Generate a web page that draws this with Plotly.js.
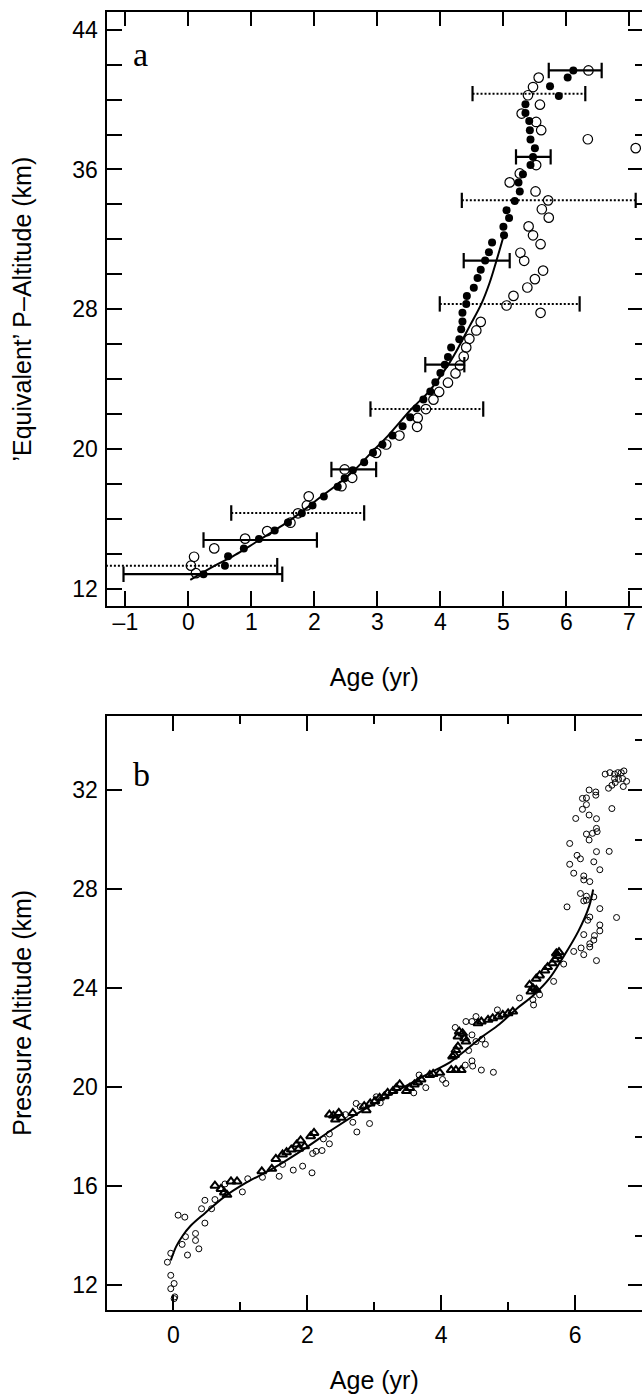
<!DOCTYPE html>
<html>
<head>
<meta charset="utf-8">
<script src="https://cdn.plot.ly/plotly-3.0.1.min.js"></script>
<style>html,body{margin:0;padding:0;background:#fff;}#chart{width:642px;height:1396px;}</style>
</head>
<body>
<div id="chart"></div>
<script>
// ---------- Panel a data ----------
var aFilledX = [0.24,0.58,0.63,0.88,1.12,1.37,1.58,1.80,1.97,2.15,2.37,2.48,2.61,2.79,2.93,3.08,3.24,3.40,3.52,3.62,3.73,3.84,3.92,4.00,4.07,4.12,4.17,4.30,4.33,4.35,4.35,4.41,4.42,4.53,4.59,4.64,4.71,4.77,4.82,5.01,5.00,5.09,5.05,5.18,5.26,5.24,5.31,5.43,5.47,5.50,5.43,5.42,5.41,5.35,5.35,5.88,5.74,6.02,6.11];
var aFilledY = [12.82,13.31,13.85,14.29,14.83,15.32,15.78,16.31,16.76,17.27,17.83,18.32,18.78,19.23,19.77,20.25,20.76,21.29,21.81,22.32,22.82,23.29,23.81,24.34,24.82,25.26,25.81,26.28,26.85,27.29,27.79,28.30,28.76,29.23,29.79,30.25,30.78,31.26,31.81,32.23,32.72,33.22,33.67,34.19,34.74,35.26,35.73,36.25,36.72,37.22,37.71,38.25,38.78,39.24,39.73,40.21,40.76,41.26,41.67];
var aOpenX = [0.12,0.04,0.09,0.41,0.90,1.25,1.62,1.74,1.88,1.91,2.43,2.60,2.48,2.98,3.14,3.35,3.63,3.64,3.77,3.89,3.98,4.12,4.24,4.31,4.37,4.41,4.46,4.57,4.64,5.59,5.05,5.16,5.38,5.50,5.63,5.33,5.27,5.59,5.47,5.40,5.72,5.61,5.71,5.51,5.10,5.26,5.52,7.10,6.34,5.60,5.52,5.29,5.58,5.39,5.47,5.56,6.35];
var aOpenY = [12.88,13.31,13.82,14.30,14.86,15.29,15.77,16.31,16.76,17.28,17.86,18.34,18.82,19.77,20.25,20.76,21.26,21.77,22.28,22.82,23.26,23.79,24.32,24.78,25.29,25.81,26.30,26.78,27.27,27.79,28.21,28.76,29.24,29.72,30.21,30.77,31.23,31.72,32.23,32.74,33.24,33.72,34.23,34.74,35.26,35.77,36.25,37.22,37.73,38.25,38.72,39.20,39.71,40.25,40.72,41.26,41.67];
var aFitX = [0.03,0.42,0.71,0.92,1.16,1.35,1.57,1.77,2.11,2.38,2.64,2.90,3.17,3.54,3.82,4.13,4.30,4.46,4.65,4.78,4.89,5.00];
var aFitY = [12.50,13.31,13.85,14.31,14.86,15.29,15.80,16.32,17.27,18.00,18.80,19.77,20.76,22.28,23.29,24.85,25.90,27.00,28.30,29.50,30.78,32.15];
// horizontal error bars: altitude, left end, right end
var aSolidBarY  = [41.67,36.72,30.78,24.82,18.82,14.78,12.82];
var aSolidBarLo = [5.72,5.20,4.37,3.76,2.27,0.24,-1.03];
var aSolidBarHi = [6.56,5.75,5.10,4.38,2.98,2.04,1.49];
var aDotBarY  = [40.34,34.23,28.30,22.28,16.33,13.31];
var aDotBarLo = [4.51,4.34,3.99,2.89,0.68,-1.50];
var aDotBarHi = [6.30,7.10,6.21,4.68,2.79,1.41];

// ---------- Panel b data ----------
var bOpenX = [-0.09,-0.04,-0.04,0.01,-0.04,0.02,0.01,0.07,0.17,0.13,0.18,0.21,0.33,0.33,0.38,0.42,0.47,0.47,0.57,0.62,0.77,1.03,1.11,1.33,1.58,1.63,1.79,1.93,2.07,2.08,2.13,2.22,2.33,2.24,2.33,2.57,2.68,2.74,2.93,2.73,2.79,3.09,
  3.03,3.59,3.77,3.67,4.07,4.02,4.78,4.60,4.47,4.36,4.46,4.41,4.66,4.52,4.61,4.46,4.21,4.37,4.46,4.52,4.84,5.17,5.37,5.38,5.47,5.68,5.83,6.32,6.13,5.98,6.09,
  6.22,6.22,6.28,6.29,6.13,6.37,6.37,6.19,6.22,6.62,6.37,5.88,6.17,6.13,6.28,6.17,6.08,6.22,6.13,6.13,5.98,6.37,5.92,6.28,6.08,6.03,6.51,6.32,5.92,6.21,6.17,6.26,6.33,6.32,6.32,6.01,6.21,6.55,6.11,6.17,6.11,6.17,6.31,6.31,6.21,6.50,6.72,6.55,6.60,6.77,6.65,6.71,6.59,6.45,6.52,6.59,6.64,6.69,6.73];
var bOpenY = [12.93,13.29,12.40,12.07,11.86,11.53,11.46,14.83,14.75,13.65,13.96,13.22,14.09,13.81,13.47,15.09,15.43,14.51,15.09,15.46,16.09,15.77,16.30,16.36,16.40,16.88,16.65,16.81,16.54,17.32,17.41,17.44,17.71,17.91,18.11,18.89,18.58,18.19,18.53,19.34,19.21,19.37,
  19.61,19.77,19.98,20.49,20.15,20.31,20.60,20.69,20.85,20.89,21.06,21.48,21.73,21.84,21.94,22.11,22.41,22.65,22.65,22.85,23.12,23.60,23.53,23.32,23.73,24.27,24.97,25.11,25.35,25.48,25.62,
  25.66,25.79,25.94,26.12,26.16,26.31,26.55,26.74,26.87,26.85,27.21,27.28,27.55,27.52,27.68,27.71,27.82,28.30,28.37,28.53,28.64,28.78,29.00,29.10,29.22,29.36,29.52,29.51,29.84,29.98,30.22,30.25,30.32,30.45,30.84,30.85,30.99,31.25,31.22,31.41,31.66,31.68,31.79,31.92,32.00,32.07,32.14,32.19,32.30,32.35,32.43,32.46,32.46,32.64,32.70,32.64,32.70,32.70,32.77];
var bTriX = [0.62,0.71,0.76,0.80,0.86,0.95,1.32,1.47,1.53,1.63,1.69,1.76,1.84,1.90,1.96,1.87,2.05,2.10,2.33,2.39,2.47,2.51,2.42,2.68,2.85,2.94,2.88,
  3.01,3.08,3.15,3.20,3.28,3.33,3.38,3.48,3.53,3.60,3.65,3.70,3.83,3.88,3.98,4.15,4.22,4.30,4.17,4.20,4.22,4.25,4.37,4.35,4.25,4.32,4.27,4.55,4.60,4.70,4.77,4.85,4.92,5.00,5.07,5.34,5.42,5.37,5.32,5.42,5.47,5.55,5.59,5.66,5.70,5.74,5.72,5.76];
var bTriY = [16.02,15.89,15.75,15.65,16.19,16.19,16.60,16.70,17.10,17.28,17.37,17.48,17.68,17.85,17.61,17.51,18.02,18.15,18.89,18.85,18.96,18.76,18.69,18.96,19.23,19.34,19.07,
  19.43,19.57,19.63,19.77,19.84,19.97,20.11,19.84,19.97,20.11,20.20,20.31,20.49,20.53,20.58,20.69,20.69,20.69,21.24,21.30,21.50,21.64,21.84,21.97,22.04,22.17,22.24,22.58,22.65,22.72,22.78,22.85,22.92,22.98,23.05,23.86,23.93,24.00,24.13,24.38,24.51,24.71,24.85,25.00,25.15,25.30,25.40,25.45];
var bFitX = [-0.04,0.04,0.13,0.25,0.47,0.77,1.08,1.50,1.95,2.38,2.88,3.38,3.88,4.13,4.37,4.62,4.87,5.12,5.37,5.62,5.80,6.05,6.21,6.27];
var bFitY = [13.00,13.56,13.97,14.38,14.91,15.59,16.13,16.74,17.50,18.30,19.15,19.91,20.65,21.00,21.50,22.05,22.54,23.15,23.69,24.40,25.15,26.30,27.30,27.98];

// tick labels
var aYTicks = [12,20,28,36,44];
var aXTicks = [-1,0,1,2,3,4,5,6,7];
var bYTicks = [12,16,20,24,28,32];
var bXTicks = [0,2,4,6];

function barXY(lo, hi, y) {
  var xs = [], ys = [];
  for (var i = 0; i < y.length; i++) { xs.push(lo[i], hi[i], null); ys.push(y[i], y[i], null); }
  return {x: xs, y: ys};
}
var sb = barXY(aSolidBarLo, aSolidBarHi, aSolidBarY);
var db = barXY(aDotBarLo, aDotBarHi, aDotBarY);

var K = 'black';
var SANS = 'Liberation Sans, Arial, Helvetica, sans-serif';
var traces = [
  {x: aFitX, y: aFitY, xaxis:'x', yaxis:'y', mode:'lines', line:{color:K, width:2, shape:'spline'}, hoverinfo:'skip'},
  {x: sb.x, y: sb.y, xaxis:'x', yaxis:'y', mode:'lines+markers', connectgaps:false, line:{color:K, width:2.2},
   marker:{symbol:'line-ns-open', size:11, line:{color:K, width:2.2}}},
  {x: db.x, y: db.y, xaxis:'x', yaxis:'y', mode:'lines+markers', connectgaps:false, line:{color:K, width:2, dash:'2px,2px'},
   marker:{symbol:'line-ns-open', size:11, line:{color:K, width:2.2}}},
  {x: aOpenX, y: aOpenY, xaxis:'x', yaxis:'y', mode:'markers', marker:{symbol:'circle-open', size:9.5, color:K, line:{color:K, width:1.2}}},
  {x: aFilledX, y: aFilledY, xaxis:'x', yaxis:'y', mode:'markers', marker:{symbol:'circle', size:8, color:K}},
  {x: [], y: [], xaxis:'x2', yaxis:'y2', mode:'markers', hoverinfo:'skip'},
  {x: bFitX, y: bFitY, xaxis:'x3', yaxis:'y3', mode:'lines', line:{color:K, width:2, shape:'spline'}, hoverinfo:'skip'},
  {x: bOpenX, y: bOpenY, xaxis:'x3', yaxis:'y3', mode:'markers', marker:{symbol:'circle-open', size:6, color:K, line:{color:K, width:1}}},
  {x: bTriX, y: bTriY, xaxis:'x3', yaxis:'y3', mode:'markers', marker:{symbol:'triangle-up-open', size:8, color:K, line:{color:K, width:2}}},
  {x: [], y: [], xaxis:'x4', yaxis:'y4', mode:'markers', hoverinfo:'skip'}
];

var W = 642, H = 1396;
var xDom = [106.5/W, 1];
var aDom = [1 - 606/H, 1 - 12.3/H];
var bDom = [1 - 1310/H, 1 - 715.7/H];
var tickFont = {family: SANS, size: 23, color: K};
var titleFont = {family: SANS, size: 25, color: K};

function baseAxis(extra) {
  var o = {showline:true, linewidth:2, linecolor:K, mirror:false, zeroline:false, showgrid:false,
           ticks:'inside', tickwidth:2, tickcolor:K, tickfont:tickFont, fixedrange:true};
  for (var k in extra) o[k] = extra[k];
  return o;
}

var layout = {
  width: W, height: H, margin:{l:0, r:0, t:0, b:0}, showlegend:false,
  paper_bgcolor:'white', plot_bgcolor:'white',
  xaxis: baseAxis({domain:xDom, anchor:'y', range:[-1.3,7.2], tickmode:'array', tickvals:aXTicks,
    ticktext:aXTicks.map(function(v){return v<0 ? '\u2013' + Math.abs(v) : String(v);}), ticklen:15, ticklabelstandoff:-6,
    title:{text:'Age (yr)', font:titleFont, standoff:35}}),
  yaxis: baseAxis({domain:aDom, anchor:'x', range:[11,45], tickmode:'array', tickvals:aYTicks, ticklen:15, ticklabelstandoff:2,
    minor:{tickmode:'linear', tick0:12, dtick:2, ticks:'inside', ticklen:15, tickwidth:2, tickcolor:K},
    title:{text:'\u2019Equivalent\u2019 P\u2013Altitude (km)', font:titleFont, standoff:34}}),
  xaxis2: baseAxis({overlaying:'x', side:'top', anchor:'y', range:[-1.3,7.2], tickmode:'linear', tick0:0, dtick:1, ticklen:14, showticklabels:false}),
  yaxis2: baseAxis({overlaying:'y', side:'right', anchor:'x', range:[11,45], tickmode:'linear', tick0:12, dtick:8, ticklen:14, showticklabels:false,
    minor:{tickmode:'linear', tick0:12, dtick:2, ticks:'inside', ticklen:7, tickwidth:2, tickcolor:K}}),
  xaxis3: baseAxis({domain:xDom, anchor:'y3', range:[-1,7], tickmode:'array', tickvals:bXTicks, ticklen:15, ticklabelstandoff:3,
    minor:{tickmode:'linear', tick0:0, dtick:1, ticks:'inside', ticklen:8, tickwidth:2, tickcolor:K},
    title:{text:'Age (yr)', font:titleFont, standoff:25}}),
  yaxis3: baseAxis({domain:bDom, anchor:'x3', range:[11,35], tickmode:'array', tickvals:bYTicks, ticklen:15, ticklabelstandoff:2,
    title:{text:'Pressure Altitude (km)', font:titleFont, standoff:34}}),
  xaxis4: baseAxis({overlaying:'x3', side:'top', anchor:'y3', range:[-1,7], tickmode:'linear', tick0:0, dtick:2, ticklen:15, showticklabels:false,
    minor:{tickmode:'linear', tick0:0, dtick:1, ticks:'inside', ticklen:8, tickwidth:2, tickcolor:K}}),
  yaxis4: baseAxis({overlaying:'y3', side:'right', anchor:'x3', range:[11,35], tickmode:'linear', tick0:12, dtick:4, ticklen:14, showticklabels:false,
    minor:{tickmode:'linear', tick0:12, dtick:2, ticks:'inside', ticklen:7, tickwidth:2, tickcolor:K}}),
  annotations: [
    {text:'a', xref:'paper', yref:'paper', x:131/W, y:1-55/H, xanchor:'left', yanchor:'middle', showarrow:false,
     font:{family:'Liberation Serif, Times New Roman, serif', size:34, color:K}},
    {text:'b', xref:'paper', yref:'paper', x:131/W, y:1-775/H, xanchor:'left', yanchor:'middle', showarrow:false,
     font:{family:'Liberation Serif, Times New Roman, serif', size:34, color:K}}
  ]
};

Plotly.newPlot('chart', traces, layout, {staticPlot:true, displayModeBar:false});
</script>
</body>
</html>
